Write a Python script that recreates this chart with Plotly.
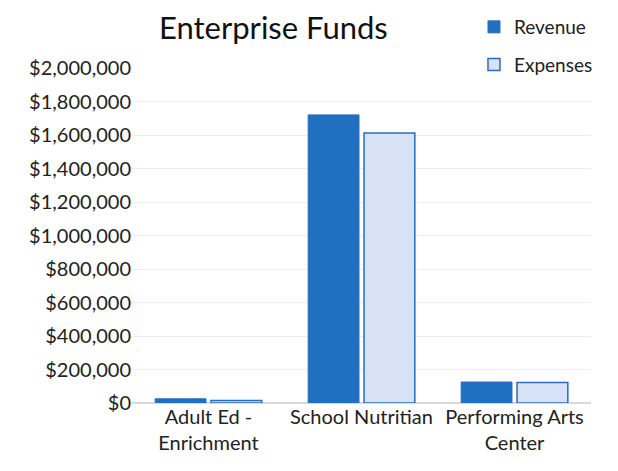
import plotly.graph_objects as go

categories = ["Adult Ed -<br>Enrichment", "School Nutritian", "Performing Arts<br>Center"]
revenue = [25000, 1720000, 125000]
expenses = [15000, 1612000, 122000]
tick_vals = [0, 200000, 400000, 600000, 800000, 1000000, 1200000, 1400000, 1600000, 1800000, 2000000]
tick_text = ["$" + format(v, ",") for v in tick_vals]

FONT = "Lato, Calibri, sans-serif"

fig = go.Figure()
fig.add_trace(go.Bar(x=categories, y=revenue, name="Revenue", legendgroup="a",
                     marker=dict(color="#2070c2", line=dict(color="#2a6cbf", width=1))))
fig.add_trace(go.Bar(x=categories, y=expenses, name="Expenses", legendgroup="b",
                     marker=dict(color="#d8e2f6", line=dict(color="#2a6cbf", width=1.5))))

fig.update_layout(
    width=618, height=471,
    paper_bgcolor="white", plot_bgcolor="white",
    font=dict(family=FONT, size=20, color="#222"),
    margin=dict(l=124, r=35, t=60, b=76, autoexpand=False),
    barmode="group", bargap=0.27, bargroupgap=0.09,
    showlegend=True,
    legend=dict(x=0.754, xref="container", xanchor="left", y=1.0, yref="container", yanchor="top",
                tracegroupgap=10, itemwidth=30,
                font=dict(size=19, family=FONT, color="#222"), bgcolor="rgba(0,0,0,0)"),
    yaxis=dict(range=[0, 2000000], tickvals=tick_vals, ticktext=tick_text,
               showgrid=True, gridcolor="#ececec", zeroline=True, zerolinecolor="#d9d9d9",
               ticks="", tickfont=dict(size=20, family=FONT, color="#222")),
    xaxis=dict(showline=False, ticks="", tickfont=dict(size=20, family=FONT, color="#222")),
)
fig.add_annotation(text="Enterprise Funds", xref="paper", yref="paper", x=0.308, y=1.0,
                   yshift=41, xanchor="center", yanchor="middle", showarrow=False,
                   font=dict(size=31, family=FONT, color="#111"))

fig.write_html("out.html")
